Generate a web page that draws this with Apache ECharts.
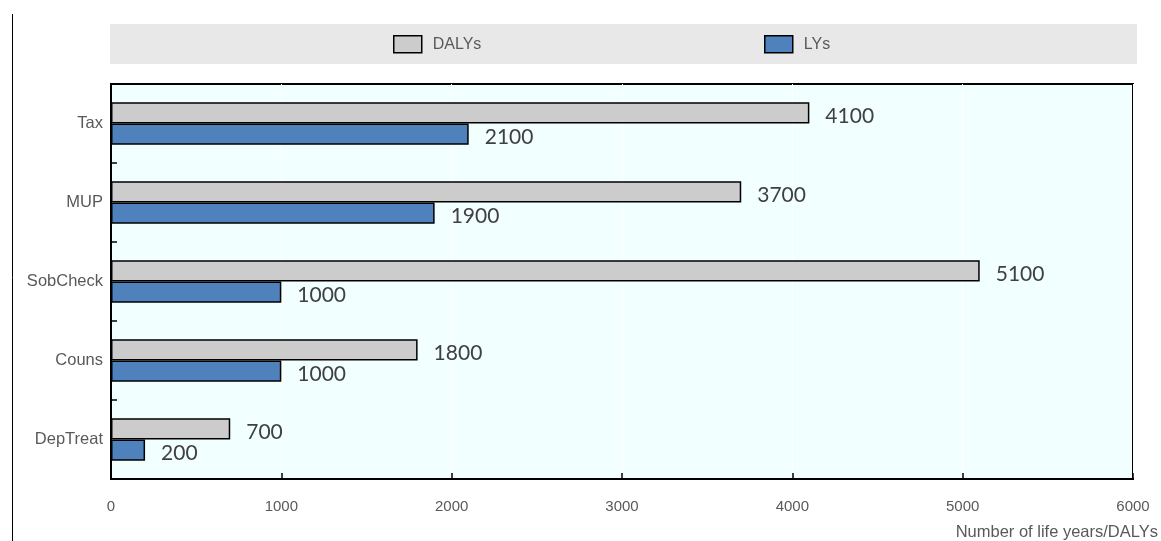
<!DOCTYPE html>
<html>
<head>
<meta charset="utf-8">
<script src="https://cdn.jsdelivr.net/npm/echarts@6/dist/echarts.min.js"></script>
<style>
  html, body { margin: 0; padding: 0; background: #fff; }
  #chart { width: 1161px; height: 541px; }
</style>
</head>
<body>
<div id="chart"></div>
<script>
// Interventions and the health gains they produce
const categories = ['Tax', 'MUP', 'SobCheck', 'Couns', 'DepTreat'];
const dalys = [4100, 3700, 5100, 1800, 700];
const lys = [2100, 1900, 1000, 1000, 200];
const seriesNames = ['DALYs', 'LYs'];
const axisTicks = [0, 1000, 2000, 3000, 4000, 5000, 6000];

const tickFont = '"Liberation Sans Narrow", "Liberation Sans", Arial, sans-serif';
const valueFont = 'Lato, "Open Sans", sans-serif';

const chart = echarts.init(document.getElementById('chart'));

const valueLabel = {
  show: true,
  position: 'right',
  distance: 16,
  offset: [0, 3],
  fontFamily: valueFont,
  fontSize: 21,
  color: '#404040'
};

const legendText = { fontFamily: tickFont, fontSize: 16, color: '#595959', padding: [2, 0, 0, 6] };

chart.setOption({
  animation: false,
  graphic: [
    { type: 'rect', shape: { x: 110, y: 24, width: 1027, height: 40 }, style: { fill: '#E8E8E8' }, z: -10 },
    { type: 'line', shape: { x1: 12.5, y1: 14, x2: 12.5, y2: 541 }, style: { stroke: '#000', lineWidth: 1 } }
  ],
  legend: [
    {
      data: [seriesNames[0]], left: 393, top: 35, padding: 0, icon: 'rect',
      itemWidth: 28, itemHeight: 17, itemGap: 0,
      itemStyle: { borderColor: '#000', borderWidth: 1.5 },
      textStyle: legendText
    },
    {
      data: [seriesNames[1]], left: 764, top: 35, padding: 0, icon: 'rect',
      itemWidth: 28, itemHeight: 17, itemGap: 0,
      itemStyle: { borderColor: '#000', borderWidth: 1.5 },
      textStyle: legendText
    }
  ],
  grid: {
    left: 111, right: 28, top: 84, bottom: 62,
    show: true, backgroundColor: '#F2FFFF', borderColor: '#000', borderWidth: 2
  },
  xAxis: {
    type: 'value', min: axisTicks[0], max: axisTicks[axisTicks.length - 1], interval: 1000,
    name: 'Number of life years/DALYs', nameLocation: 'end', nameGap: 0,
    nameTextStyle: { fontFamily: tickFont, fontSize: 16.5, color: '#595959', align: 'right', verticalAlign: 'top', padding: [45, -25, 0, 0] },
    axisLine: { show: true, lineStyle: { color: '#000', width: 2 } },
    axisTick: { show: true, inside: true, length: 6, lineStyle: { color: '#000', width: 1.5 } },
    axisLabel: { fontFamily: tickFont, fontSize: 15, color: '#595959', margin: 20, formatter: (v) => String(v) },
    splitLine: { show: true, lineStyle: { color: '#FFFFFF', width: 1 } }
  },
  yAxis: {
    type: 'category', data: categories, inverse: true,
    axisLine: { show: true, lineStyle: { color: '#000', width: 2 } },
    axisTick: { show: true, inside: true, length: 6, lineStyle: { color: '#000', width: 1.5 } },
    axisLabel: { fontFamily: tickFont, fontSize: 16.5, color: '#595959', margin: 8, padding: [2, 0, 0, 0] }
  },
  series: [
    {
      name: seriesNames[0], type: 'bar', data: dalys,
      barGap: '0%', barCategoryGap: '46%',
      itemStyle: { color: '#CCCCCC', borderColor: '#000', borderWidth: 1.5 },
      label: valueLabel
    },
    {
      name: seriesNames[1], type: 'bar', data: lys,
      barGap: '0%', barCategoryGap: '46%',
      itemStyle: { color: '#4F81BD', borderColor: '#000', borderWidth: 1.5 },
      label: valueLabel
    }
  ]
});
</script>
</body>
</html>
